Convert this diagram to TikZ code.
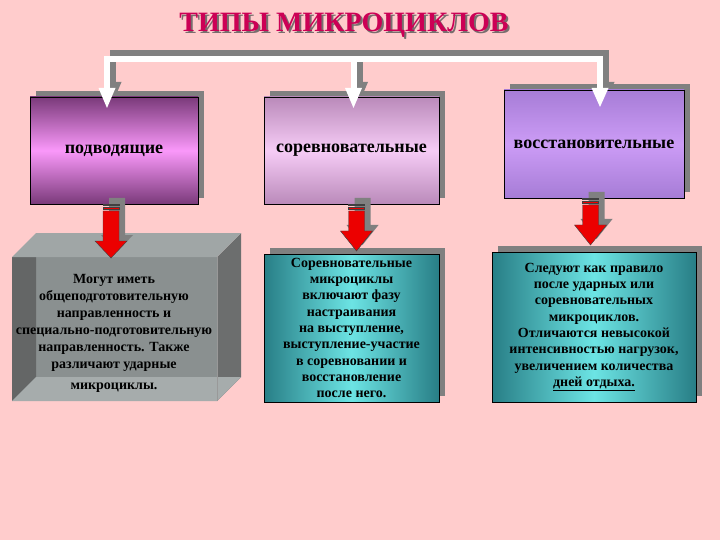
\documentclass[tikz,border=0pt]{standalone}
\usepackage{fontspec}
\setmainfont{Liberation Serif}
\usetikzlibrary{shadows,calc}
\definecolor{bg}{RGB}{255,204,204}
\definecolor{titlec}{RGB}{204,0,85}
\definecolor{titles}{RGB}{120,110,110}
\definecolor{pAd}{RGB}{122,58,122}
\definecolor{pAl}{RGB}{250,152,250}
\definecolor{pBd}{RGB}{186,138,186}
\definecolor{pBl}{RGB}{246,204,246}
\definecolor{pCd}{RGB}{166,124,214}
\definecolor{pCl}{RGB}{204,156,246}
\definecolor{tealD}{RGB}{40,126,134}
\definecolor{tealL}{RGB}{108,228,228}
\definecolor{arrred}{RGB}{236,0,0}
\definecolor{cubeF}{RGB}{138,144,144}
\definecolor{cubeT}{RGB}{160,166,166}
\definecolor{cubeR}{RGB}{108,110,110}
\definecolor{cubeL}{RGB}{100,102,102}
\definecolor{cubeB}{RGB}{166,172,172}
\newcommand\redarr[4]{%
  \begin{scope}[shift={(6,-6)}]
    \fill[gray] ({#1-8},{#2}) -- ({#1+8},{#2}) -- ({#1+8},{#3}) -- ({#1+16},{#3}) -- (#1,#4) -- ({#1-16},{#3}) -- ({#1-8},{#3}) -- cycle;
  \end{scope}
  \filldraw[fill=arrred, draw=black!75, line width=0.4pt] ({#1-8},{#2}) rectangle ({#1+8},{#2+1.5});
  \filldraw[fill=arrred, draw=black!75, line width=0.4pt] ({#1-8},{#2+3}) rectangle ({#1+8},{#2+5.5});
  \filldraw[fill=arrred, draw=black!75, line width=0.4pt] ({#1-8},{#2+7}) -- ({#1+8},{#2+7}) -- ({#1+8},{#3}) -- ({#1+16},{#3}) -- (#1,#4) -- ({#1-16},{#3}) -- ({#1-8},{#3}) -- cycle;
}
\newcommand\shadowtitle[1]{\rlap{\kern2pt\raisebox{-2pt}{\textcolor{titles}{#1}}}\textcolor{titlec}{#1}}
\tikzset{
  shadowbox/.style={draw=black, line width=0.6pt, inner sep=0pt,
    drop shadow={shadow xshift=6pt, shadow yshift=6pt, fill=gray, opacity=1}},
  labelfont/.style={font=\fontsize{18}{20}\selectfont\bfseries},
  descfont/.style={font=\fontsize{14}{16.3}\selectfont\bfseries, align=center},
  whiteline/.style={white, line width=6pt},
  shadowline/.style={gray, line width=6pt}
}
\begin{document}
\begin{tikzpicture}[x=1pt,y=-1pt]
\fill[bg] (0,0) rectangle (720,540);
\useasboundingbox (0,0) rectangle (720,540);

% title
\node[font=\fontsize{28}{30}\selectfont\bfseries] (title) at (344,26) {\shadowtitle{ТИПЫ МИКРОЦИКЛОВ}};

% bracket shadow
\draw[shadowline] (113,83) |- (606,53.5) -- (606,83);
\draw[shadowline] (359.5,53.5) -- (359.5,83);
\fill[gray] (104.5,82) -- (121.5,82) -- (113,102) -- cycle;
\fill[gray] (351,82) -- (368,82) -- (359.5,102) -- cycle;
\fill[gray] (597.5,82) -- (614.5,82) -- (606,101) -- cycle;

% boxes
\node[shadowbox, labelfont, top color=pAd, bottom color=pAd, middle color=pAl,
      minimum width=168pt, minimum height=107pt] (b1) at (114,150.5) {\raisebox{-3pt}{подводящие}};
\node[shadowbox, labelfont, top color=pBd, bottom color=pBd, middle color=pBl,
      minimum width=175pt, minimum height=107pt] (b2) at (351.5,150.5) {\raisebox{-3pt}{соревновательные}};
\node[shadowbox, labelfont, top color=pCd, bottom color=pCd, middle color=pCl,
      minimum width=180pt, minimum height=108pt] (b3) at (594,144) {\raisebox{-3pt}{восстановительные}};

% bracket white
\draw[whiteline] (107,89) |- (600,59.5) -- (600,89);
\draw[whiteline] (353.5,59.5) -- (353.5,89);
\fill[white] (98.5,88) -- (115.5,88) -- (107,108) -- cycle;
\fill[white] (345,88) -- (362,88) -- (353.5,108) -- cycle;
\fill[white] (591.5,88) -- (608.5,88) -- (600,107) -- cycle;

% cube
\fill[cubeF] (12,257) rectangle (217,401);
\fill[cubeR] (217,257) -- (241,233) -- (241,377) -- (217,401) -- cycle;
\fill[cubeL] (12,257) -- (36,257) -- (36,377) -- (12,401) -- cycle;
\fill[cubeB] (12,401) -- (36,377) -- (241,377) -- (217,401) -- cycle;
\fill[cubeT] (12,257) -- (36,233) -- (241,233) -- (217,257) -- cycle;
\draw[black!40, line width=0.4pt] (217,257) -- (217,401);
\node[descfont, font=\fontsize{14}{17}\selectfont\bfseries] (t1) at (114,333)
  {Могут иметь\\ общеподготовительную\\ направленность и\\ специально-подготовительную\\ направленность. Также\\ различают ударные\\[4pt] микроциклы.};

% teal boxes
\node[shadowbox, descfont, left color=tealD, right color=tealD, middle color=tealL,
      minimum width=175pt, minimum height=148pt] (b5) at (351.5,328)
  {Соревновательные\\ микроциклы\\ включают фазу\\ настраивания\\ на выступление,\\ выступление-участие\\ в соревновании и\\ восстановление\\ после него.};
\node[shadowbox, descfont, left color=tealD, right color=tealD, middle color=tealL,
      minimum width=204pt, minimum height=150pt] (b6) at (594,327)
  {Следуют как правило\\ после ударных или\\ соревновательных\\ микроциклов.\\ Отличаются невысокой\\ интенсивностью нагрузок,\\ увеличением количества\\ \underline{дней отдыха.}};

% red arrows
\redarr{111}{204}{241}{258}
\redarr{356.5}{204}{231}{251}
\redarr{590.5}{198}{225}{245}
\end{tikzpicture}
\end{document}
